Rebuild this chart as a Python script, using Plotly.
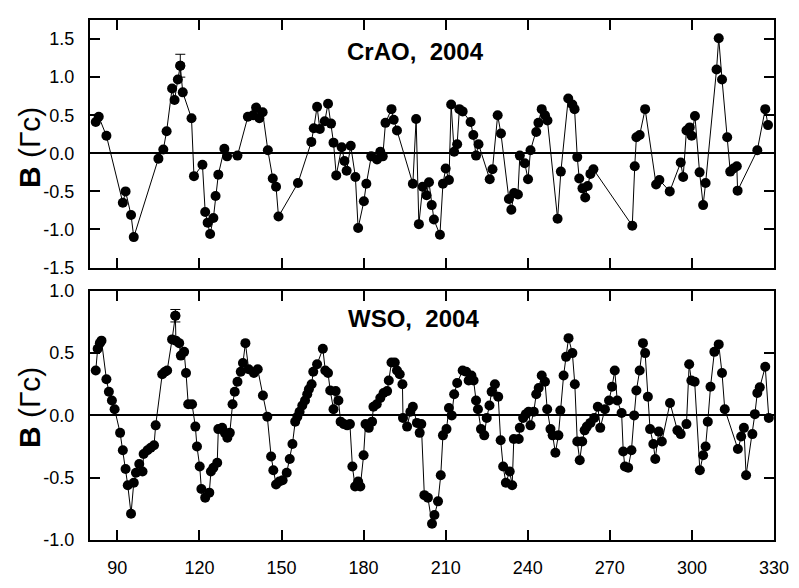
import plotly.graph_objects as go

# ---------------- data ----------------
crao_day = [82.1, 83.2, 86.0, 92.0, 93.0, 95.0, 96.0, 105.0, 106.8, 108.0,
            110.0, 110.9, 112.1, 113.0, 113.9, 117.1, 118.0, 121.1, 122.1, 123.0,
            123.9, 125.1, 125.9, 126.9, 129.1, 130.1, 133.9, 137.7, 139.6, 140.7,
            141.9, 143.1, 145.0, 146.8, 148.0, 148.9, 156.0, 160.9, 161.8, 163.0,
            164.0, 165.8, 167.0, 168.1, 169.0, 170.0, 172.0, 173.0, 173.8, 175.3,
            177.0, 178.0, 180.1, 181.0, 182.8, 184.9, 186.1, 187.0, 188.0, 190.2,
            191.0, 192.2, 198.0, 199.2, 200.2, 201.6, 203.0, 203.9, 204.9, 205.7,
            207.9, 209.0, 210.0, 211.2, 212.0, 213.1, 214.2, 215.0, 216.2, 219.1,
            220.1, 221.1, 222.0, 226.1, 227.1, 229.0, 230.2, 233.1, 234.0, 235.0,
            236.4, 237.1, 238.9, 240.1, 241.0, 243.1, 243.9, 245.1, 246.3, 247.2,
            250.9, 252.1, 254.8, 256.3, 257.1, 258.1, 258.8, 260.0, 261.0, 261.9,
            262.9, 264.0, 278.2, 279.1, 279.7, 280.9, 282.9, 286.9, 288.1, 291.9,
            295.9, 296.8, 298.0, 299.2, 299.9, 301.1, 302.8, 304.1, 305.0, 309.0,
            309.8, 311.0, 312.9, 314.0, 315.2, 316.4, 316.7, 323.9, 326.8, 327.8]
crao_b = [0.41, 0.48, 0.23, -0.65, -0.50, -0.81, -1.10, -0.07, 0.05, 0.29,
          0.85, 0.70, 0.97, 1.15, 0.80, 0.46, -0.30, -0.15, -0.77, -0.91,
          -1.06, -0.85, -0.56, -0.28, 0.06, -0.04, -0.03, 0.48, 0.50, 0.60,
          0.46, 0.54, 0.04, -0.33, -0.44, -0.83, -0.39, 0.15, 0.33, 0.61,
          0.32, 0.42, 0.65, 0.39, 0.14, -0.29, 0.08, -0.10, -0.23, 0.10,
          -0.31, -0.98, -0.63, -0.40, -0.04, -0.08, 0.02, -0.04, 0.40, 0.58,
          0.44, 0.30, -0.40, 0.45, -0.93, -0.44, -0.55, -0.38, -0.68, -0.87,
          -1.07, -0.40, -0.20, -0.35, 0.64, 0.02, 0.12, 0.58, 0.55, 0.41,
          0.24, -0.03, 0.12, -0.34, -0.21, 0.50, 0.26, -0.60, -0.74, -0.52,
          -0.54, -0.03, -0.13, -0.34, 0.04, 0.28, 0.40, 0.58, 0.50, 0.43,
          -0.86, -0.24, 0.72, 0.64, 0.58, -0.05, -0.33, -0.46, -0.58, -0.43,
          -0.27, -0.21, -0.95, -0.17, 0.21, 0.24, 0.58, -0.41, -0.35, -0.50,
          -0.12, -0.31, 0.30, 0.34, 0.23, 0.49, -0.25, -0.68, -0.39, 1.10,
          1.51, 0.97, 0.21, -0.24, -0.20, -0.17, -0.49, 0.04, 0.58, 0.37]
crao_err_index = 13
crao_err_value = 0.15

wso_day = [82.1, 82.8, 83.6, 84.2, 86.0, 86.9, 88.0, 89.0, 91.0, 92.0,
           93.0, 93.8, 95.0, 96.0, 96.8, 98.0, 99.2, 99.6, 101.0, 102.2,
           103.4, 104.0, 106.4, 107.4, 108.2, 110.0, 111.2, 111.4, 112.6, 113.2,
           114.4, 115.1, 115.9, 117.3, 118.5, 119.1, 120.1, 120.7, 122.1, 123.6,
           124.2, 125.1, 126.5, 126.9, 128.3, 129.3, 130.2, 131.1, 132.1, 132.9,
           133.9, 135.1, 135.9, 136.8, 138.0, 139.9, 141.3, 143.2, 144.8, 146.2,
           147.0, 148.0, 149.2, 150.4, 151.9, 153.0, 154.0, 155.0, 155.8, 156.6,
           157.6, 158.6, 159.4, 160.0, 161.0, 161.6, 163.0, 165.1, 166.0, 167.0,
           167.8, 169.0, 169.8, 170.8, 171.6, 172.8, 174.0, 175.0, 175.9, 176.9,
           178.0, 178.8, 180.0, 180.7, 181.9, 183.1, 183.6, 184.8, 186.1, 187.3,
           188.6, 189.2, 190.2, 191.4, 192.2, 193.2, 194.2, 194.4, 195.9, 197.1,
           198.0, 199.5, 200.5, 201.1, 202.2, 203.5, 205.0, 205.9, 207.2, 208.2,
           209.0, 210.3, 211.2, 212.2, 213.1, 214.2, 216.2, 217.5, 218.4, 219.4,
           220.2, 221.1, 221.8, 222.9, 224.1, 225.0, 226.0, 226.8, 228.0, 229.2,
           230.1, 231.0, 232.0, 233.4, 234.3, 234.9, 236.7, 237.1, 238.3, 239.3,
           240.3, 241.0, 242.2, 243.1, 244.0, 245.1, 246.3, 247.1, 248.3, 249.1,
           250.1, 251.2, 251.9, 253.1, 254.0, 254.9, 256.3, 257.2, 258.1, 259.0,
           259.9, 260.8, 261.6, 262.9, 264.3, 265.6, 266.5, 268.2, 269.7, 270.8,
           271.8, 272.7, 274.3, 274.9, 275.5, 276.7, 277.9, 278.9, 279.7, 280.9,
           282.1, 282.9, 283.9, 284.7, 285.9, 286.6, 287.9, 289.0, 292.0, 294.7,
           295.9, 298.0, 299.0, 299.8, 301.0, 302.9, 304.1, 305.0, 305.8, 306.8,
           308.2, 309.8, 311.0, 312.0, 316.8, 318.0, 319.0, 319.8, 322.1, 323.0,
           323.9, 324.8, 326.8, 328.1]
wso_b = [0.36, 0.535, 0.58, 0.60, 0.29, 0.19, 0.12, 0.05, -0.14, -0.28,
         -0.43, -0.56, -0.79, -0.54, -0.46, -0.39, -0.45, -0.31, -0.28, -0.26,
         -0.24, -0.08, 0.33, 0.35, 0.36, 0.61, 0.80, 0.60, 0.58, 0.48,
         0.51, 0.34, 0.09, 0.09, -0.09, -0.25, -0.41, -0.59, -0.66, -0.62,
         -0.45, -0.42, -0.38, -0.11, -0.10, -0.14, -0.18, -0.14, 0.09, 0.19,
         0.27, 0.35, 0.42, 0.58, 0.37, 0.34, 0.37, 0.16, -0.01, -0.33,
         -0.44, -0.555, -0.53, -0.52, -0.46, -0.35, -0.23, -0.05, -0.01, 0.03,
         0.08, 0.12, 0.17, 0.21, 0.25, 0.35, 0.41, 0.535, 0.36, 0.34,
         0.20, 0.05, 0.195, 0.12, -0.05, -0.07, -0.08, -0.07, -0.41, -0.57,
         -0.53, -0.57, -0.32, -0.07, -0.10, -0.05, 0.07, 0.09, 0.14, 0.18,
         0.195, 0.28, 0.425, 0.425, 0.36, 0.33, 0.25, -0.02, -0.09, 0.03,
         0.07, -0.06, -0.14, -0.07, -0.64, -0.66, -0.87, -0.80, -0.69, -0.48,
         -0.16, -0.11, 0.06, 0.00, 0.17, 0.26, 0.36, 0.35, 0.28, 0.32,
         0.28, 0.12, 0.05, -0.11, -0.16, -0.02, 0.08, 0.19, 0.25, 0.15,
         -0.20, -0.41, -0.54, -0.45, -0.56, -0.19, -0.19, -0.10, -0.02, 0.01,
         0.03, -0.08, 0.03, 0.17, 0.22, 0.32, 0.27, 0.05, -0.11, -0.16,
         -0.30, -0.16, 0.04, 0.32, 0.47, 0.62, 0.50, 0.25, -0.21, -0.36,
         -0.21, -0.12, -0.09, -0.06, -0.02, 0.07, -0.10, 0.05, 0.12, 0.23,
         0.36, 0.12, 0.02, -0.29, -0.41, -0.42, -0.28, 0.00, 0.20, 0.36,
         0.58, 0.50, 0.15, -0.11, -0.23, -0.35, -0.13, -0.21, 0.10, -0.12,
         -0.15, -0.07, 0.41, 0.28, 0.27, -0.44, -0.32, -0.25, -0.05, 0.23,
         0.51, 0.57, 0.34, 0.05, -0.27, -0.17, -0.10, -0.48, -0.15, 0.01,
         0.18, 0.225, 0.39, -0.02]
wso_err_index = 26
wso_err_value = 0.05

x_tickvals = [90, 120, 150, 180, 210, 240, 270, 300, 330]
x_ticktext = ["90", "120", "150", "180", "210", "240", "270", "300", "330"]
top_tickvals = [-1.5, -1.0, -0.5, 0.0, 0.5, 1.0, 1.5]
top_ticktext = ["-1.5", "-1.0", "-0.5", "0.0", "0.5", "1.0", "1.5"]
bot_tickvals = [-1.0, -0.5, 0.0, 0.5, 1.0]
bot_ticktext = ["-1.0", "-0.5", "0.0", "0.5", "1.0"]

top_title = "CrAO,\u00a0 2004"
bot_title = "WSO,\u00a0 2004"
y_title = "<b>B</b> (Гс)"

# ---------------- figure ----------------
FONT = "Liberation Sans, Arial, Helvetica, sans-serif"
marker = dict(color="black", size=10)
line = dict(color="black", width=1)

fig = go.Figure()
fig.add_trace(go.Scatter(x=crao_day, y=crao_b, mode="lines+markers",
                         marker=marker, line=line, xaxis="x", yaxis="y",
                         showlegend=False, hoverinfo="x+y"))
fig.add_trace(go.Scatter(x=[crao_day[crao_err_index]], y=[crao_b[crao_err_index]],
                         mode="markers", marker=marker, xaxis="x", yaxis="y",
                         error_y=dict(type="data", array=[crao_err_value], color="black",
                                      thickness=1, width=5),
                         showlegend=False))
fig.add_trace(go.Scatter(x=wso_day, y=wso_b, mode="lines+markers",
                         marker=marker, line=line, xaxis="x2", yaxis="y2",
                         showlegend=False, hoverinfo="x+y"))
fig.add_trace(go.Scatter(x=[wso_day[wso_err_index]], y=[wso_b[wso_err_index]],
                         mode="markers", marker=marker, xaxis="x2", yaxis="y2",
                         error_y=dict(type="data", array=[wso_err_value], color="black",
                                      thickness=1, width=5),
                         showlegend=False))

axis_common = dict(showline=True, linecolor="black", linewidth=2, mirror="ticks",
                   ticks="inside", ticklen=10, tickwidth=2, tickcolor="black",
                   showgrid=False, tickfont=dict(family=FONT, size=18, color="black"),
                   ticklabelstandoff=10)

top_dom = [(554 - 269) / 544, 1.0]
bot_dom = [0.0, (554 - 293.3) / 544]

fig.update_layout(
    width=799, height=588,
    margin=dict(l=90, r=16, t=10, b=34),
    paper_bgcolor="white", plot_bgcolor="white",
    font=dict(family=FONT, color="black"),
    xaxis=dict(domain=[0, 1], anchor="y", range=[80, 330], tickvals=x_tickvals,
               ticktext=x_ticktext, showticklabels=False, zeroline=False, **axis_common),
    yaxis=dict(domain=top_dom, anchor="x", range=[-1.5, 1.75], tickvals=top_tickvals,
               ticktext=top_ticktext, zeroline=True, zerolinecolor="black",
               zerolinewidth=2, **axis_common),
    xaxis2=dict(domain=[0, 1], anchor="y2", range=[80, 330], tickvals=x_tickvals,
                ticktext=x_ticktext, zeroline=False, **axis_common),
    yaxis2=dict(domain=bot_dom, anchor="x2", range=[-1.0, 1.0], tickvals=bot_tickvals,
                ticktext=bot_ticktext, zeroline=True, zerolinecolor="black",
                zerolinewidth=2, **axis_common),
    annotations=[
        dict(text="<b>" + top_title + "</b>", xref="paper", yref="paper",
             x=(420 - 90) / 692.7, y=(554 - 43) / 544, showarrow=False,
             font=dict(family=FONT, size=24, color="black"),
             xanchor="center", yanchor="middle"),
        dict(text="<b>" + bot_title + "</b>", xref="paper", yref="paper",
             x=(418 - 90) / 692.7, y=(554 - 322.7) / 544, showarrow=False,
             font=dict(family=FONT, size=24, color="black"),
             xanchor="center", yanchor="middle"),
        dict(text=y_title, xref="paper", yref="paper", textangle=-90,
             x=(28 - 90) / 692.7, y=(554 - 143) / 544, showarrow=False,
             font=dict(family=FONT, size=30, color="black"),
             xanchor="center", yanchor="middle"),
        dict(text=y_title, xref="paper", yref="paper", textangle=-90,
             x=(28 - 90) / 692.7, y=(554 - 415) / 544, showarrow=False,
             font=dict(family=FONT, size=30, color="black"),
             xanchor="center", yanchor="middle"),
    ],
)

fig.write_html("out.html", config={"displayModeBar": False},
               post_script="document.body.style.margin='0';")
